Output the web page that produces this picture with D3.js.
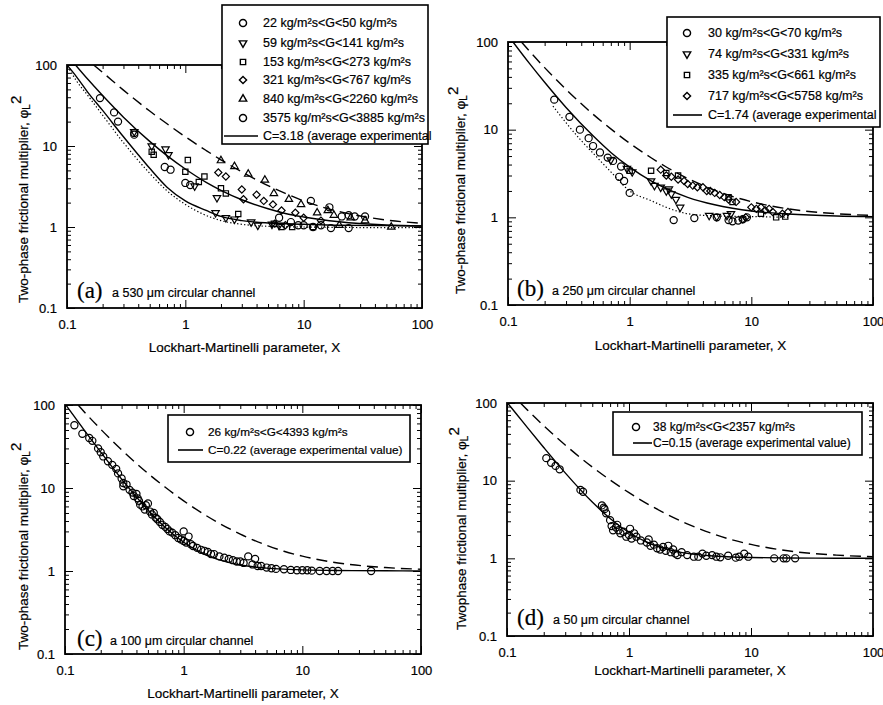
<!DOCTYPE html>
<html>
<head>
<meta charset="utf-8">
<script src="https://cdn.jsdelivr.net/npm/d3@7"></script>
<style>
body { margin: 0; background: #fff; }
svg text { font-family: "Liberation Sans", Arial, sans-serif; fill: #000; stroke: #000; stroke-width: 0.2px; }
</style>
</head>
<body>
<svg id="fig" width="883" height="705"></svg>
<script>
// ---- axis ticks ----
const majorTicks = [0.1, 1, 10, 100];
const majorLabels = ["0.1", "1", "10", "100"];
const minorTicks = [];
[0.1, 1, 10].forEach(dec => { for (let k = 2; k <= 9; k++) minorTicks.push(k * dec); });

// ---- correlation curves [X, phiL^2] ----
const aDashed = [[0.168,100],[0.2,81],[0.3,49],[0.5,27],[0.7,18.8],[1,13],[1.5,8.8],[2,6.75],[3,4.8],[5,3.25],[7,2.6],[10,2.1],[20,1.55],[50,1.22],[100,1.11]];
const aSolid = [[0.118,100],[0.15,66.6],[0.2,42],[0.3,22.7],[0.5,11.4],[0.7,7.6],[1,5.2],[1.5,3.56],[2,2.84],[3,2.17],[5,1.68],[7,1.47],[10,1.33],[20,1.16],[50,1.06],[100,1.03]];
const aLower = [[0.1,100],[0.12,72],[0.15,46],[0.2,27.5],[0.3,13],[0.4,7.8],[0.5,5.3],[0.7,3.1],[1,2.1],[1.5,1.6],[2,1.35],[3,1.2],[5,1.12],[10,1.08],[20,1.05],[50,1.04],[100,1.03]];
const aDotted = [[0.105,88],[0.12,64],[0.15,42],[0.2,24],[0.3,11],[0.5,4.6],[0.7,2.8],[1,1.9],[2,1.2],[3,1.08],[5,1.02],[10,1.0],[20,0.99],[50,0.98],[100,0.98]];
const dashedC5 = [[0.129,100],[0.15,78.7],[0.2,51],[0.3,28.8],[0.5,15],[0.7,10.2],[1,7],[1.5,4.78],[2,3.75],[3,2.78],[5,2.04],[7,1.73],[10,1.51],[20,1.25],[50,1.1],[100,1.05]];
const bSolid = [[0.11,100],[0.15,57],[0.2,34.7],[0.3,17.9],[0.5,8.5],[0.7,5.5],[1,3.74],[1.5,2.6],[2,2.12],[3,1.69],[5,1.39],[7,1.27],[10,1.18],[20,1.09],[50,1.035],[100,1.02]];
const bDotted = [[0.234,18.6],[0.3,12],[0.4,7.5],[0.5,5.4],[0.7,3.3],[1,2.0],[1.5,1.55],[2,1.3],[2.6,1.15],[3,1.1],[5,1.04],[10,1.02],[20,1.0]];
const cSolid = [[0.1016,100],[0.12,72.3],[0.15,46.9],[0.2,27.1],[0.3,12.8],[0.5,5.44],[0.7,3.35],[1,2.22],[1.5,1.59],[2,1.36],[3,1.18],[5,1.084],[7,1.052],[10,1.032],[20,1.013],[50,1.005],[100,1.002]];
const dSolid = [[0.101,100],[0.12,71.7],[0.15,46.4],[0.2,26.75],[0.3,12.6],[0.5,5.3],[0.7,3.26],[1,2.15],[1.5,1.54],[2,1.325],[3,1.16],[5,1.07],[7,1.04],[10,1.025],[20,1.01],[50,1.003],[100,1.001]];

// ---- experimental points [X, phiL^2] ----
const aG22 = [[0.19,39],[0.25,26],[0.27,20],[0.37,14.5],[0.37,13.8],[0.67,5.5],[0.75,5.1],[1.0,3.5],[1.1,3.3]];
const aG59 = [[0.37,15],[0.52,10],[0.68,9.2],[0.72,7.8],[1.2,3.2],[1.85,2.3],[1.8,1.5],[2.2,1.3],[2.6,1.25],[3.6,1.15],[4.1,1.05],[5.4,1.08],[6.2,1.05]];
const aG153 = [[0.52,8.5],[0.54,7.8],[1.05,6.7],[1.0,4.8],[1.3,3.6],[1.45,4.2],[2.0,3.0],[2.2,2.6],[2.8,1.45],[5.6,1.1],[6.5,1.0],[8,1.0],[12,1.0]];
const aG321 = [[1.9,4.7],[2.2,4.2],[3.0,2.9],[3.1,2.2],[4.0,2.5],[4.6,2.1],[5.5,1.9],[6.5,1.6],[8.5,1.5],[10,1.3],[14,1.2],[5.7,1.1],[7,1.05]];
const aG840 = [[2.0,6.6],[2.6,5.6],[3.4,4.5],[4.7,3.8],[5.6,2.6],[7.5,2.2],[9.5,1.9],[13,1.5],[16,1.6],[18,1.4],[25,1.3],[33,1.2],[55,1.0],[20,1.05]];
const aG3575 = [[11.5,2.1],[16.5,1.75],[21,1.35],[24,1.4],[27,1.35],[33,1.35],[6.2,1.3],[7.8,1.15],[10,1.05],[12,1.0],[17,0.97],[24,0.97],[9,1.05],[14,1.05]];

const bG30 = [[0.24,22],[0.32,14],[0.39,10],[0.46,8],[0.5,6.5],[0.57,5.5],[0.66,4.8],[0.73,4.4],[0.85,3.8],[0.82,2.9],[0.9,2.6],[1.0,1.9],[2.3,0.93],[3.4,0.98],[5.2,1.0],[6.5,0.93],[7.0,0.9],[7.8,0.92],[8.5,0.95],[9.2,1.0]];
const bG74 = [[0.7,4.5],[0.95,3.6],[1.05,3.3],[1.5,2.6],[1.6,2.3],[1.8,2.2],[2.0,2.0],[2.1,2.1],[2.2,1.85],[2.4,1.6],[2.6,1.3],[4.5,1.05],[5.2,1.02],[6.3,1.05],[6.8,1.1]];
const bG335 = [[1.0,3.4],[1.5,3.4],[2.0,3.2],[2.5,3.0],[6.5,1.7],[7,1.5],[12,1.1],[16,1.0],[19,1.02]];
const bG717 = [[1.8,3.5],[2.0,3.0],[2.2,2.9],[2.5,2.7],[2.8,2.6],[3.0,2.4],[3.3,2.3],[3.6,2.2],[4.0,2.2],[4.3,2.0],[4.6,2.0],[5.0,1.9],[5.5,1.8],[6.0,1.7],[6.5,1.6],[7.5,1.5],[10,1.3],[11,1.25],[12,1.3],[13,1.2],[14,1.25],[15,1.15],[18,1.1],[20,1.15],[8.5,0.95],[9,1.0]];

const cG26 = [[0.12,57],[0.14,45],[0.16,40],[0.17,37],[0.19,30],[0.2,27],[0.21,24],[0.23,21],[0.25,19],[0.27,17],[0.28,15],[0.3,13],[0.31,11.5],[0.31,10.5],[0.33,11],[0.35,9.5],[0.37,8.8],[0.38,8],[0.4,8.5],[0.41,7.5],[0.42,7],[0.43,6.3],[0.45,6],[0.47,5.5],[0.48,6.2],[0.5,6.5],[0.52,5.2],[0.54,4.8],[0.56,5],[0.58,4.4],[0.6,4.2],[0.63,3.9],[0.66,3.6],[0.7,3.4],[0.73,3.2],[0.76,3.0],[0.8,2.9],[0.85,2.7],[0.9,2.5],[0.95,2.4],[1.0,3.0],[1.0,2.3],[1.05,2.2],[1.1,2.6],[1.15,2.1],[1.2,2.0],[1.3,1.9],[1.4,1.8],[1.5,1.75],[1.6,1.7],[1.7,1.6],[1.8,1.6],[2.0,1.5],[2.2,1.45],[2.4,1.4],[2.6,1.35],[2.8,1.3],[3.0,1.3],[3.2,1.25],[3.5,1.5],[3.8,1.2],[4.0,1.4],[4.2,1.15],[4.5,1.15],[5,1.1],[5.5,1.08],[6,1.06],[7,1.05],[8,1.03],[9,1.02],[10,1.02],[11,1.02],[12,1.01],[14,1.0],[16,1.0],[18,1.0],[20,1.0],[38,1.0]];

const dG38 = [[0.21,19.5],[0.23,17],[0.25,15.5],[0.27,14],[0.4,7.6],[0.42,7.2],[0.6,4.8],[0.62,4.5],[0.63,4.3],[0.65,3.8],[0.7,3.1],[0.72,2.6],[0.74,2.3],[0.78,2.5],[0.8,2.7],[0.82,2.3],[0.85,2.1],[0.9,2.2],[0.95,1.9],[1.0,2.0],[1.02,2.4],[1.05,1.8],[1.1,2.1],[1.15,1.9],[1.25,1.7],[1.4,1.6],[1.45,1.75],[1.5,1.45],[1.6,1.5],[1.7,1.35],[1.8,1.3],[1.9,1.4],[2.0,1.25],[2.1,1.45],[2.2,1.2],[2.3,1.3],[2.4,1.15],[2.5,1.1],[2.7,1.2],[3.0,1.1],[3.4,1.05],[3.7,1.05],[4.0,1.15],[4.3,1.08],[4.8,1.1],[5.2,1.05],[5.6,1.03],[6.5,1.08],[7.5,1.02],[8,1.05],[8.8,1.15],[9.5,1.05],[15.5,1.0],[18.5,1.0],[19.5,1.0],[23,1.0]];

// ---- legend texts (as far as the boxes show them) ----
const aLegend = ["22 kg/m²s<G<50 kg/m²s", "59 kg/m²s<G<141 kg/m²s", "153 kg/m²s<G<273 kg/m²s", "321 kg/m²s<G<767 kg/m²s", "840 kg/m²s<G<2260 kg/m²s", "3575 kg/m²s<G<3885 kg/m²s", "C=3.18 (average experimental"];
const bLegend = ["30 kg/m²s<G<70 kg/m²s", "74 kg/m²s<G<331 kg/m²s", "335 kg/m²s<G<661 kg/m²s", "717 kg/m²s<G<5758 kg/m²s", "C=1.74 (average experimental"];
const cLegend = ["26 kg/m²s<G<4393 kg/m²s", "C=0.22 (average experimental value)"];
const dLegend = ["38 kg/m²s<G<2357 kg/m²s", "C=0.15 (average experimental value)"];

const svg = d3.select("svg#fig");

const shapes = {
    circle: {type: d3.symbolCircle, size: 40, rot: 0},
    triDown: {type: d3.symbolTriangle, size: 24, rot: 180},
    triUp: {type: d3.symbolTriangle, size: 24, rot: 0},
    square: {type: d3.symbolSquare, size: 28, rot: 0},
    diamond: {type: d3.symbolSquare, size: 26, rot: 45}
};

function drawPanel(p) {
    const x = d3.scaleLog().domain([0.1, 100]).range([p.left, p.right]);
    const y = d3.scaleLog().domain([0.1, 100]).range([p.bottom, p.top]);
    const g = svg.append("g");

    g.append("clipPath").attr("id", "clip" + p.id)
        .append("rect")
        .attr("x", p.left).attr("y", p.top)
        .attr("width", p.right - p.left).attr("height", p.bottom - p.top);

    // ticks on all four sides, pointing inward
    const tickAxis = (axis, tr, vals, size, labels) => {
        const a = g.append("g").attr("transform", tr)
            .call(axis.tickValues(vals).tickSize(size).tickPadding(9)
                .tickFormat(labels ? (d, i) => labels[i] : ""));
        a.select(".domain").remove();
        a.selectAll(".tick line").attr("stroke-width", 1);
        a.selectAll("text").attr("font-size", 13).attr("font-family", null);
        return a;
    };
    tickAxis(d3.axisBottom(x), `translate(0,${p.bottom})`, minorTicks, -4);
    tickAxis(d3.axisBottom(x), `translate(0,${p.bottom})`, majorTicks, -8, majorLabels)
        .selectAll("text").attr("dy", "0.9em");
    tickAxis(d3.axisTop(x), `translate(0,${p.top})`, minorTicks, -4);
    tickAxis(d3.axisTop(x), `translate(0,${p.top})`, majorTicks, -8);
    tickAxis(d3.axisLeft(y), `translate(${p.left},0)`, minorTicks, -4);
    tickAxis(d3.axisLeft(y), `translate(${p.left},0)`, majorTicks, -8, majorLabels)
        .selectAll("text").attr("dx", -1);
    tickAxis(d3.axisRight(y), `translate(${p.right},0)`, minorTicks, -4);
    tickAxis(d3.axisRight(y), `translate(${p.right},0)`, majorTicks, -8);

    // curves
    const line = d3.line().x(d => x(d[0])).y(d => y(d[1])).curve(d3.curveMonotoneX);
    const cg = g.append("g").attr("clip-path", `url(#clip${p.id})`);
    p.curves.forEach(c => {
        cg.append("path").attr("d", line(c.pts))
            .attr("fill", "none").attr("stroke", "#000")
            .attr("stroke-width", c.w || 1.4)
            .attr("stroke-dasharray", c.dash || null);
    });

    // points
    p.series.forEach(s => {
        const sh = shapes[s.shape];
        const sym = d3.symbol().type(sh.type).size(sh.size);
        cg.selectAll(null).data(s.pts).enter().append("path")
            .attr("d", sym)
            .attr("transform", d => `translate(${x(d[0])},${y(d[1])}) rotate(${sh.rot})`)
            .attr("fill", "none").attr("stroke", "#000").attr("stroke-width", 1.2);
    });

    // frame
    g.append("rect")
        .attr("x", p.left).attr("y", p.top)
        .attr("width", p.right - p.left).attr("height", p.bottom - p.top)
        .attr("fill", "none").attr("stroke", "#000").attr("stroke-width", 1.8);

    // axis titles
    g.append("text")
        .attr("x", (p.left + p.right) / 2).attr("y", p.xTitleY)
        .attr("text-anchor", "middle").attr("font-size", 13.5)
        .text("Lockhart-Martinelli parameter, X");

    const yt = g.append("text")
        .attr("transform", `translate(${p.yTitle[0]},${p.yTitle[1]}) rotate(-90)`)
        .attr("font-size", 13.5)
        .text(p.yText + "φ");
    yt.append("tspan").attr("font-size", 10).attr("dy", 2).text("L");
    yt.append("tspan").attr("font-size", 15).attr("dy", -9).text("2");

    // panel tag
    g.append("text").attr("x", p.tag[0]).attr("y", p.tag[1])
        .style("font-family", "'Liberation Serif', 'DejaVu Serif', serif")
        .attr("font-size", 23).text(`(${p.id})`);
    g.append("text").attr("x", p.tag[0] + p.tagGap).attr("y", p.tag[1] - 1)
        .attr("font-size", 12.5).text(p.channel);

    // legend
    const L = p.legend;
    const lg = svg.append("g");
    lg.append("rect")
        .attr("x", L.x0).attr("y", L.y0)
        .attr("width", L.x1 - L.x0).attr("height", L.y1 - L.y0)
        .attr("fill", "#fff").attr("stroke", "#000").attr("stroke-width", 1.6);
    L.texts.forEach((t, i) => {
        const ry = L.rows[i];
        if (i < p.series.length) {
            const sh = shapes[p.series[i].shape];
            lg.append("path")
                .attr("d", d3.symbol().type(sh.type).size(sh.size)())
                .attr("transform", `translate(${L.symX},${ry}) rotate(${sh.rot})`)
                .attr("fill", "none").attr("stroke", "#000").attr("stroke-width", 1.4);
        } else {
            lg.append("line")
                .attr("x1", L.line[0]).attr("x2", L.line[1])
                .attr("y1", ry).attr("y2", ry)
                .attr("stroke", "#000").attr("stroke-width", 1.6);
        }
        lg.append("text").attr("x", L.textX).attr("y", ry + 4)
            .attr("font-size", L.fs).text(t);
    });
}

const panelA = {
    id: "a", left: 67, right: 422, top: 65, bottom: 308,
    xTitleY: 352, yTitle: [28, 303], yText: "Two-phase frictional multiplier, ",
    tag: [77, 298], tagGap: 35, channel: "a 530 μm circular channel",
    curves: [{pts: aDashed, dash: "11,6"}, {pts: aSolid}, {pts: aLower}, {pts: aDotted, dash: "1.3,2.2", w: 1.2}],
    series: [{pts: aG22, shape: "circle"}, {pts: aG59, shape: "triDown"}, {pts: aG153, shape: "square"},
             {pts: aG321, shape: "diamond"}, {pts: aG840, shape: "triUp"}, {pts: aG3575, shape: "circle"}],
    legend: {x0: 222, y0: 5, x1: 428, y1: 144, rows: [23, 43, 62, 80, 99, 118, 136],
             symX: 243, textX: 263, line: [224, 258], fs: 12.5, texts: aLegend}
};
const panelB = {
    id: "b", left: 508, right: 873, top: 42, bottom: 305,
    xTitleY: 350, yTitle: [465, 294], yText: "Two-phase frictional multiplier, ",
    tag: [517, 296], tagGap: 35, channel: "a 250 μm circular channel",
    curves: [{pts: dashedC5, dash: "11,6"}, {pts: bSolid}, {pts: bDotted, dash: "1.3,2.2", w: 1.2}],
    series: [{pts: bG30, shape: "circle"}, {pts: bG74, shape: "triDown"}, {pts: bG335, shape: "square"},
             {pts: bG717, shape: "diamond"}],
    legend: {x0: 667, y0: 17, x1: 880, y1: 127, rows: [33, 54, 75, 96, 115],
             symX: 687, textX: 708, line: [673, 702], fs: 12.5, texts: bLegend}
};
const panelC = {
    id: "c", left: 65, right: 421, top: 405, bottom: 654,
    xTitleY: 698, yTitle: [28, 650], yText: "Two-phase frictional multiplier, ",
    tag: [77, 646], tagGap: 33, channel: "a 100 μm circular channel",
    curves: [{pts: dashedC5, dash: "11,6"}, {pts: cSolid}],
    series: [{pts: cG26, shape: "circle"}],
    legend: {x0: 168, y0: 415, x1: 410, y1: 462, rows: [432, 450],
             symX: 190, textX: 208, line: [178, 203], fs: 11.8, texts: cLegend}
};
const panelD = {
    id: "d", left: 507, right: 873, top: 403, bottom: 636,
    xTitleY: 675, yTitle: [466, 630], yText: "Twophase frictional multiplier, ",
    tag: [517, 625], tagGap: 36, channel: "a 50 μm circular channel",
    curves: [{pts: dashedC5, dash: "11,6"}, {pts: dSolid}],
    series: [{pts: dG38, shape: "circle"}],
    legend: {x0: 613, y0: 412, x1: 862, y1: 455, rows: [427, 443],
             symX: 636, textX: 653, line: [633, 652], fs: 12, texts: dLegend}
};

[panelA, panelB, panelC, panelD].forEach(drawPanel);
</script>
</body>
</html>
